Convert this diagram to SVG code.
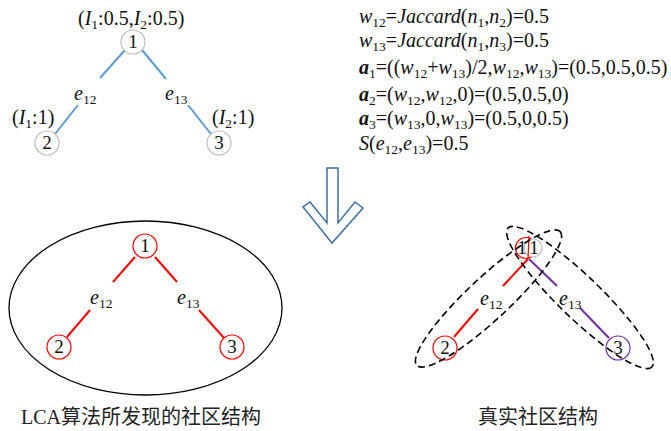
<svg xmlns="http://www.w3.org/2000/svg" width="671" height="431" viewBox="0 0 671 431">
<style>
.t{font-family:"Liberation Serif","Times New Roman",serif;font-size:20px;fill:#111}
.i{font-style:italic}
.b{font-style:italic;font-weight:bold}
.n{font-family:"Liberation Serif","Times New Roman",serif;font-size:19px;fill:#111;text-anchor:middle}
.cap{font-family:"Liberation Serif","Noto Sans CJK SC",serif;font-size:20px;fill:#222}
.gn{fill:#fff;stroke:#bfbfbf;stroke-width:1.2}
.rn{fill:#fff;stroke:#ff0000;stroke-width:1.2}
.pn{fill:#fff;stroke:#7030a0;stroke-width:1.2}
.bl{stroke:#5b9bd5;stroke-width:2;fill:none}
.rl{stroke:#ff0000;stroke-width:2;fill:none}
.pl{stroke:#7030a0;stroke-width:2;fill:none}
.de{fill:none;stroke:#000;stroke-width:1.6;stroke-dasharray:7 4}
</style>
<rect width="671" height="431" fill="#fff"/>

<!-- top-left graph -->
<g id="connectors-top">
<line class="bl" x1="125" y1="50" x2="100" y2="78"/>
<line class="bl" x1="142" y1="50" x2="166" y2="79"/>
<line class="bl" x1="78" y1="105" x2="55" y2="134"/>
<line class="bl" x1="188" y1="105" x2="211" y2="134"/>
</g>
<g id="top-node1"><circle class="gn" cx="133" cy="42" r="12"/><text class="n" x="133" y="48">1</text></g>
<g id="top-node2"><circle class="gn" cx="47" cy="143" r="12"/><text class="n" x="47" y="149">2</text></g>
<g id="top-node3"><circle class="gn" cx="219" cy="143" r="12"/><text class="n" x="219" y="149">3</text></g>
<g id="top-labels">
<text class="t" x="78" y="25">(<tspan class="i">I</tspan><tspan dy="4" font-size="13.5">1</tspan><tspan dy="-4">:0.5,</tspan><tspan class="i">I</tspan><tspan dy="4" font-size="13.5">2</tspan><tspan dy="-4">:0.5)</tspan></text>
<text class="t" x="12" y="124">(<tspan class="i">I</tspan><tspan dy="4" font-size="13.5">1</tspan><tspan dy="-4">:1)</tspan></text>
<text class="t" x="212" y="124">(<tspan class="i">I</tspan><tspan dy="4" font-size="13.5">2</tspan><tspan dy="-4">:1)</tspan></text>
<text class="t" x="74" y="100"><tspan class="i">e</tspan><tspan dy="4" font-size="13.5">12</tspan></text>
<text class="t" x="165" y="100"><tspan class="i">e</tspan><tspan dy="4" font-size="13.5">13</tspan></text>
</g>

<!-- formulas -->
<g id="formulas">
<text class="t" x="359" y="23"><tspan class="i">w</tspan><tspan dy="4" font-size="13.5">12</tspan><tspan dy="-4">=</tspan><tspan class="i">Jaccard</tspan>(<tspan class="i">n</tspan><tspan dy="4" font-size="13.5">1</tspan><tspan dy="-4">,</tspan><tspan class="i">n</tspan><tspan dy="4" font-size="13.5">2</tspan><tspan dy="-4">)=0.5</tspan></text>
<text class="t" x="359" y="47"><tspan class="i">w</tspan><tspan dy="4" font-size="13.5">13</tspan><tspan dy="-4">=</tspan><tspan class="i">Jaccard</tspan>(<tspan class="i">n</tspan><tspan dy="4" font-size="13.5">1</tspan><tspan dy="-4">,</tspan><tspan class="i">n</tspan><tspan dy="4" font-size="13.5">3</tspan><tspan dy="-4">)=0.5</tspan></text>
<text class="t" x="359" y="74"><tspan class="b">a</tspan><tspan dy="4" font-size="13.5">1</tspan><tspan dy="-4">=((</tspan><tspan class="i">w</tspan><tspan dy="4" font-size="13.5">12</tspan><tspan dy="-4">+</tspan><tspan class="i">w</tspan><tspan dy="4" font-size="13.5">13</tspan><tspan dy="-4">)/2,</tspan><tspan class="i">w</tspan><tspan dy="4" font-size="13.5">12</tspan><tspan dy="-4">,</tspan><tspan class="i">w</tspan><tspan dy="4" font-size="13.5">13</tspan><tspan dy="-4">)=(0.5,0.5,0.5)</tspan></text>
<text class="t" x="359" y="101"><tspan class="b">a</tspan><tspan dy="4" font-size="13.5">2</tspan><tspan dy="-4">=(</tspan><tspan class="i">w</tspan><tspan dy="4" font-size="13.5">12</tspan><tspan dy="-4">,</tspan><tspan class="i">w</tspan><tspan dy="4" font-size="13.5">12</tspan><tspan dy="-4">,0)=(0.5,0.5,0)</tspan></text>
<text class="t" x="359" y="125"><tspan class="b">a</tspan><tspan dy="4" font-size="13.5">3</tspan><tspan dy="-4">=(</tspan><tspan class="i">w</tspan><tspan dy="4" font-size="13.5">13</tspan><tspan dy="-4">,0,</tspan><tspan class="i">w</tspan><tspan dy="4" font-size="13.5">13</tspan><tspan dy="-4">)=(0.5,0,0.5)</tspan></text>
<text class="t" x="359" y="150"><tspan class="i">S</tspan>(<tspan class="i">e</tspan><tspan dy="4" font-size="13.5">12</tspan><tspan dy="-4">,</tspan><tspan class="i">e</tspan><tspan dy="4" font-size="13.5">13</tspan><tspan dy="-4">)=0.5</tspan></text>
</g>

<!-- hollow arrow -->
<g id="arrow">
<polygon points="327,168 338,168 338,223 355,202 363,208 332,243 303,207 310,202 327,223" fill="#fff" stroke="#3d6fa8" stroke-width="1.5" stroke-linejoin="miter"/>
</g>

<!-- bottom-left -->
<g id="lca-community"><ellipse cx="145.5" cy="308" rx="136.5" ry="87" fill="none" stroke="#000" stroke-width="1.3"/></g>
<g id="connectors-bl">
<line class="rl" x1="135" y1="257" x2="113" y2="282"/>
<line class="rl" x1="155" y1="257" x2="177" y2="282"/>
<line class="rl" x1="90" y1="310" x2="67" y2="337"/>
<line class="rl" x1="199" y1="310" x2="224" y2="338"/>
</g>
<g id="bl-node1"><circle class="rn" cx="145" cy="246" r="12"/><text class="n" x="145" y="252">1</text></g>
<g id="bl-node2"><circle class="rn" cx="59" cy="347" r="12"/><text class="n" x="59" y="353">2</text></g>
<g id="bl-node3"><circle class="rn" cx="232" cy="347" r="12"/><text class="n" x="232" y="353">3</text></g>
<g id="bl-labels">
<text class="t" x="90" y="304"><tspan class="i">e</tspan><tspan dy="4" font-size="13.5">12</tspan></text>
<text class="t" x="177" y="304"><tspan class="i">e</tspan><tspan dy="4" font-size="13.5">13</tspan></text>
<text class="cap" x="21" y="424">LCA算法所发现的社区结构</text>
</g>

<!-- bottom-right -->
<g id="connectors-br">
<line class="rl" x1="528" y1="259" x2="503" y2="286"/>
<line class="rl" x1="478" y1="309" x2="454" y2="337"/>
<line class="pl" x1="529" y1="259" x2="557" y2="286"/>
<line class="pl" x1="580" y1="308" x2="609" y2="338"/>
</g>
<g id="br-node1">
<circle class="rn" cx="526" cy="248" r="10.5"/>
<circle class="gn" cx="533" cy="248" r="9"/>
<line x1="529" y1="236" x2="528" y2="259" stroke="#ff0000" stroke-width="1.2"/>
<text class="n" x="522" y="254">1</text>
<text class="n" x="534" y="254">1</text>
</g>
<g id="br-node2"><circle class="rn" cx="445" cy="348" r="12"/><text class="n" x="445" y="354">2</text></g>
<g id="br-node3"><circle class="pn" cx="618" cy="348" r="12"/><text class="n" x="618" y="354">3</text></g>
<g id="true-communities">
<ellipse class="de" cx="488.5" cy="298.5" rx="98" ry="21" transform="rotate(-43 488.5 298.5)"/>
<ellipse class="de" cx="580" cy="297.5" rx="100" ry="21" transform="rotate(44 580 297.5)"/>
</g>
<g id="br-labels">
<text class="t" x="480" y="305"><tspan class="i">e</tspan><tspan dy="4" font-size="13.5">12</tspan></text>
<text class="t" x="559" y="305"><tspan class="i">e</tspan><tspan dy="4" font-size="13.5">13</tspan></text>
<text class="cap" x="478" y="424">真实社区结构</text>
</g>
</svg>
